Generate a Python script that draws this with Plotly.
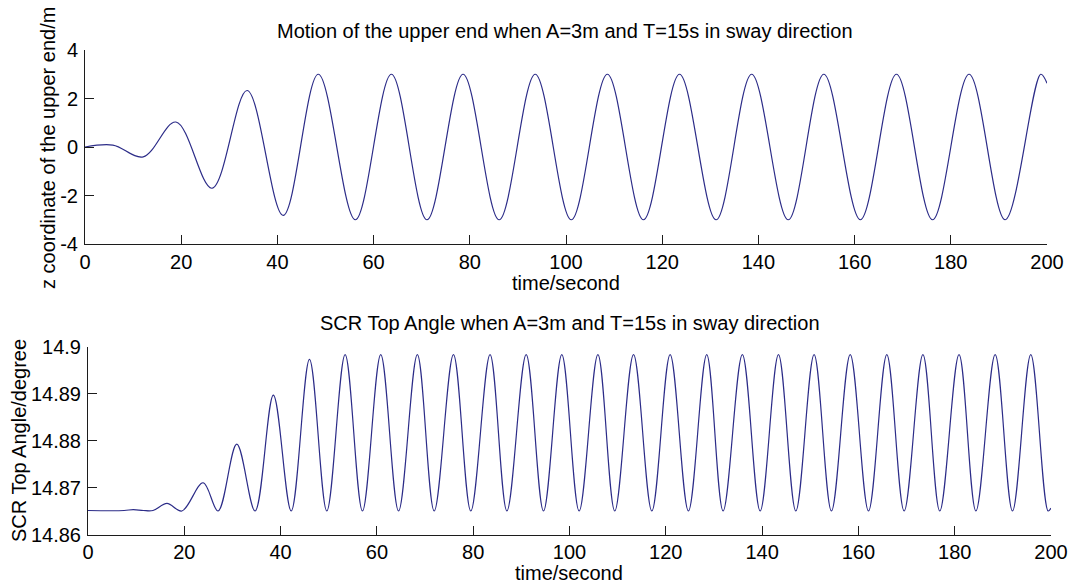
import plotly.graph_objects as go

# Upper end sway motion: turning points of the response (time in s, z in m)
time_upper = [0, 5.8, 12.1, 18.9, 26.4, 33.7, 41.2, 48.5, 56.2, 63.7, 71.1, 78.6,
              86.1, 93.6, 101.1, 108.6, 116.1, 123.6, 131.2, 138.6, 146.2, 153.6,
              161.2, 168.7, 176.2, 183.8, 191.3, 198.7, 200]
z_upper = [0.0, 0.08, -0.41, 1.03, -1.70, 2.33, -2.82, 3.00, -3.00, 3.00, -3.00, 3.00,
           -3.00, 3.00, -3.00, 3.00, -3.00, 3.00, -3.00, 3.00, -3.00, 3.00,
           -3.00, 3.00, -3.00, 3.00, -3.00, 3.00, 2.63]

# SCR top angle: turning points of the response (time in s, angle in degree)
time_angle = [0, 7.5, 9.4, 11.5, 13.5, 16.4, 19.5, 23.9, 27.0, 30.9, 34.7, 38.5,
              42.2, 46.0, 49.6, 53.4, 57.0, 60.8, 64.5, 68.4, 71.9, 75.9, 79.5,
              83.5, 87.0, 91.0, 94.6, 98.4, 102.0, 105.9, 109.4, 113.3, 117.1,
              120.9, 124.7, 128.5, 131.9, 135.9, 139.6, 143.4, 147.0, 150.8,
              154.4, 158.3, 162.1, 165.9, 169.5, 173.4, 176.9, 180.9, 184.4,
              188.4, 192.0, 195.8, 199.4, 200]
angle = [14.8652, 14.8652, 14.8654, 14.8652, 14.8652, 14.8667, 14.8651, 14.8711,
         14.8651, 14.8793, 14.8651, 14.8897, 14.8651, 14.8973, 14.8651, 14.8983,
         14.8651, 14.8983, 14.8651, 14.8983, 14.8651, 14.8983, 14.8651, 14.8983,
         14.8651, 14.8983, 14.8651, 14.8983, 14.8651, 14.8983, 14.8651, 14.8983,
         14.8651, 14.8983, 14.8651, 14.8983, 14.8651, 14.8983, 14.8651, 14.8983,
         14.8651, 14.8983, 14.8651, 14.8983, 14.8651, 14.8983, 14.8651, 14.8983,
         14.8651, 14.8983, 14.8651, 14.8983, 14.8651, 14.8983, 14.8651, 14.8657]

time_ticks = list(range(0, 201, 20))
z_ticks = [-4, -2, 0, 2, 4]
z_tick_labels = ["-4", "-2", "0", "2", "4"]
angle_ticks = [14.86, 14.87, 14.88, 14.89, 14.9]
angle_tick_labels = ["14.86", "14.87", "14.88", "14.89", "14.9"]

W, H = 1070, 583
FONT = "Liberation Sans, Arial, sans-serif"
FS = 20
INK = "#1c1c1c"
LINE = "#2c2c88"


def fx(p):
    return p / W


def fy(p):
    return 1 - p / H


fig = go.Figure()
fig.add_trace(go.Scatter(x=time_upper, y=z_upper, mode="lines",
                         line=dict(color=LINE, width=1.2, shape="spline", smoothing=1.0),
                         xaxis="x", yaxis="y", showlegend=False, hoverinfo="skip"))
fig.add_trace(go.Scatter(x=time_angle, y=angle, mode="lines",
                         line=dict(color=LINE, width=1.2, shape="spline", smoothing=1.0),
                         xaxis="x2", yaxis="y2", showlegend=False, hoverinfo="skip"))

axis_style = dict(showline=True, linecolor=INK, linewidth=1, mirror=False,
                  ticks="inside", ticklen=9, tickcolor=INK, tickwidth=1,
                  showgrid=False, zeroline=False, automargin=False,
                  tickfont=dict(family=FONT, size=FS, color="#000"))

fig.update_layout(
    width=W, height=H, autosize=False,
    margin=dict(l=0, r=0, t=0, b=0),
    paper_bgcolor="white", plot_bgcolor="white",
    font=dict(family=FONT, size=FS, color="#000"),
    xaxis=dict(domain=[fx(85), fx(1047)], range=[0, 200], tickvals=time_ticks,
               anchor="y", **axis_style),
    yaxis=dict(domain=[fy(244), fy(50)], range=[-4, 4], tickvals=z_ticks,
               ticktext=z_tick_labels, anchor="x", ticklabelstandoff=2, **axis_style),
    xaxis2=dict(domain=[fx(88), fx(1051)], range=[0, 200], tickvals=time_ticks,
                anchor="y2", ticklabelstandoff=-1, **axis_style),
    yaxis2=dict(domain=[fy(535), fy(346.7)], range=[14.86, 14.9], tickvals=angle_ticks,
                ticktext=angle_tick_labels, anchor="x2", ticklabelstandoff=2, **axis_style),
)

labels = [
    ("Motion of the upper end when A=3m and T=15s in sway direction", 565, 31, 0),
    ("time/second", 566, 283, 0),
    ("z coordinate of the upper end/m", 48, 148, -90),
    ("SCR Top Angle when A=3m and T=15s in sway direction", 570, 323, 0),
    ("time/second", 569, 573, 0),
    ("SCR Top Angle/degree", 19, 441, -90),
]
for text, x, y, rot in labels:
    fig.add_annotation(text=text, x=fx(x), y=fy(y), xref="paper", yref="paper",
                       xanchor="center", yanchor="middle", showarrow=False,
                       textangle=rot, font=dict(family=FONT, size=FS, color="#000"))

fig.write_html("out.html")
